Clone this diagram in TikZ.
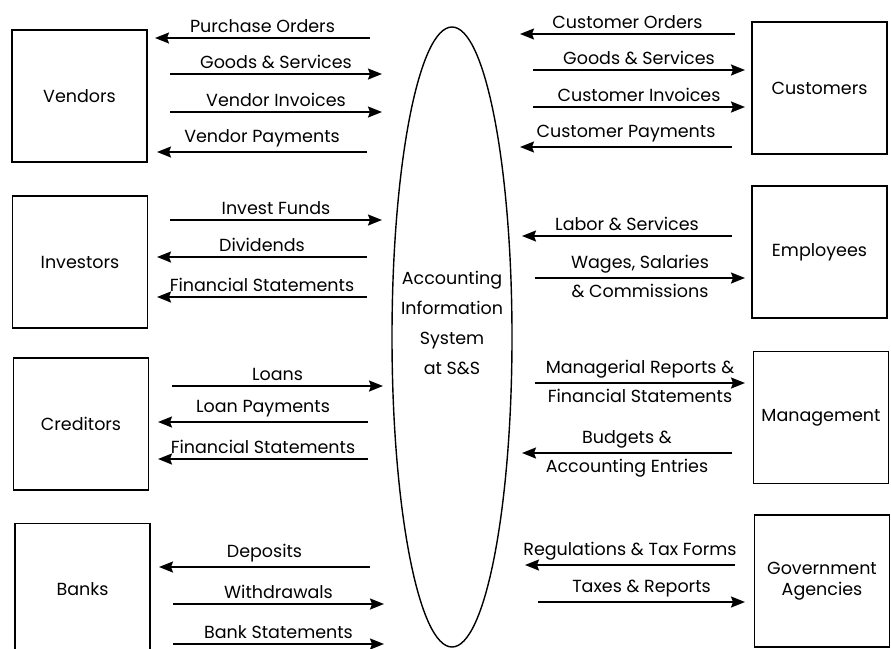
\documentclass[tikz,border=0pt]{standalone}
\usepackage{fontspec}
\setmainfont{Poppins}
\usetikzlibrary{shapes.geometric}
\usetikzlibrary{arrows.meta}

\tikzset{
    party/.style={draw, line width=1.3pt, minimum width=135pt, minimum height=132pt, inner sep=0pt},
    flow/.style={line width=1.8pt, -{Stealth[length=14pt, width=11pt, inset=2pt]}},
    lbl/.style={above, inner sep=4pt},
    lblb/.style={below, inner sep=5pt}
}

\begin{document}
\begin{tikzpicture}[x=1pt, y=-1pt, font=\fontsize{17.5}{21}\selectfont]
    \useasboundingbox (0,0) rectangle (891,648);
    \clip (0,0) rectangle (891,648);

    \node[draw, ellipse, line width=1.4pt, minimum width=120pt, minimum height=620pt, inner sep=0pt] (ais) at (452,337) {};
    \node[align=center, font=\fontsize{17.5}{30}\selectfont] (aistxt) at (452,323)
          {Accounting\\Information\\System\\at S\&S};

    % outside parties
    \node[party] (vend) at (79.5,96) {Vendors};
    \node[party] (inv) at (80,262) {Investors};
    \node[party] (cred) at (81,424) {Creditors};
    \node[party] (bank) at (82.5,589.5) {Banks};

    \node[party] (cust) at (819.5,88) {Customers};
    \node[party] (empl) at (819.5,252) {Employees};
    \node[party] (mgmt) at (821,417.5) {Management};
    \node[party, align=center] (govt) at (822,581) {Government\\Agencies};

    % vendors
    \path (370,38) coordinate (po1) (155,38) coordinate (po2);
    \draw[flow] (po1) -- node[lbl] {Purchase Orders} (po2);
    \path (170,74) coordinate (vg1) (382,74) coordinate (vg2);
    \draw[flow] (vg1) -- node[lbl] {Goods \& Services} (vg2);
    \path (170,112) coordinate (vi1) (382,112) coordinate (vi2);
    \draw[flow] (vi1) -- node[lbl] {Vendor Invoices} (vi2);
    \path (367,152) coordinate (vp1) (157,152) coordinate (vp2);
    \draw[flow] (vp1) -- node[lbl] {Vendor Payments} (vp2);

    % investors
    \path (170,220) coordinate (if1) (382,220) coordinate (if2);
    \draw[flow] (if1) -- node[lbl] {Invest Funds} (if2);
    \path (367,257) coordinate (dv1) (157,257) coordinate (dv2);
    \draw[flow] (dv1) -- node[lbl] {Dividends} (dv2);
    \path (367,297) coordinate (fsi1) (157,297) coordinate (fsi2);
    \draw[flow] (fsi1) -- node[lbl] {Financial Statements} (fsi2);

    % creditors
    \path (172,386) coordinate (ln1) (383,386) coordinate (ln2);
    \draw[flow] (ln1) -- node[lbl] {Loans} (ln2);
    \path (368,422) coordinate (lp1) (158,422) coordinate (lp2);
    \draw[flow] (lp1) -- node[lbl] {Loan Payments} (lp2);
    \path (368,459) coordinate (fsc1) (158,459) coordinate (fsc2);
    \draw[flow] (fsc1) -- node[lbl] {Financial Statements} (fsc2);

    % banks
    \path (370,567) coordinate (dp1) (159,567) coordinate (dp2);
    \draw[flow] (dp1) -- node[lbl] {Deposits} (dp2);
    \path (173,604) coordinate (wd1) (384,604) coordinate (wd2);
    \draw[flow] (wd1) -- node[lbl] {Withdrawals} (wd2);
    \path (173,644) coordinate (bs1) (384,644) coordinate (bs2);
    \draw[flow] (bs1) -- node[lbl] {Bank Statements} (bs2);

    % customers
    \path (735,34) coordinate (co1) (520,34) coordinate (co2);
    \draw[flow] (co1) -- node[lbl] {Customer Orders} (co2);
    \path (533,70) coordinate (cg1) (745,70) coordinate (cg2);
    \draw[flow] (cg1) -- node[lbl] {Goods \& Services} (cg2);
    \path (533,107) coordinate (ci1) (745,107) coordinate (ci2);
    \draw[flow] (ci1) -- node[lbl] {Customer Invoices} (ci2);
    \path (732,147) coordinate (cp1) (520,147) coordinate (cp2);
    \draw[flow] (cp1) -- node[lbl] {Customer Payments} (cp2);

    % employees
    \path (732,236) coordinate (lb1) (522,236) coordinate (lb2);
    \draw[flow] (lb1) -- node[lbl] {Labor \& Services} (lb2);
    \path (535,278) coordinate (ws1) (745,278) coordinate (ws2);
    \draw[flow] (ws1) -- node[lbl] {Wages, Salaries} node[lblb] {\& Commissions} (ws2);

    % management
    \path (535,383) coordinate (mr1) (745,383) coordinate (mr2);
    \draw[flow] (mr1) -- node[lbl] {Managerial Reports \&} node[lblb] {Financial Statements} (mr2);
    \path (732,453) coordinate (bu1) (522,453) coordinate (bu2);
    \draw[flow] (bu1) -- node[lbl] {Budgets \&} node[lblb] {Accounting Entries} (bu2);

    % government
    \path (735,565) coordinate (rg1) (525,565) coordinate (rg2);
    \draw[flow] (rg1) -- node[lbl] {Regulations \& Tax Forms} (rg2);
    \path (538,602) coordinate (tx1) (745,602) coordinate (tx2);
    \draw[flow] (tx1) -- node[lbl] {Taxes \& Reports} (tx2);

\end{tikzpicture}
\end{document}
